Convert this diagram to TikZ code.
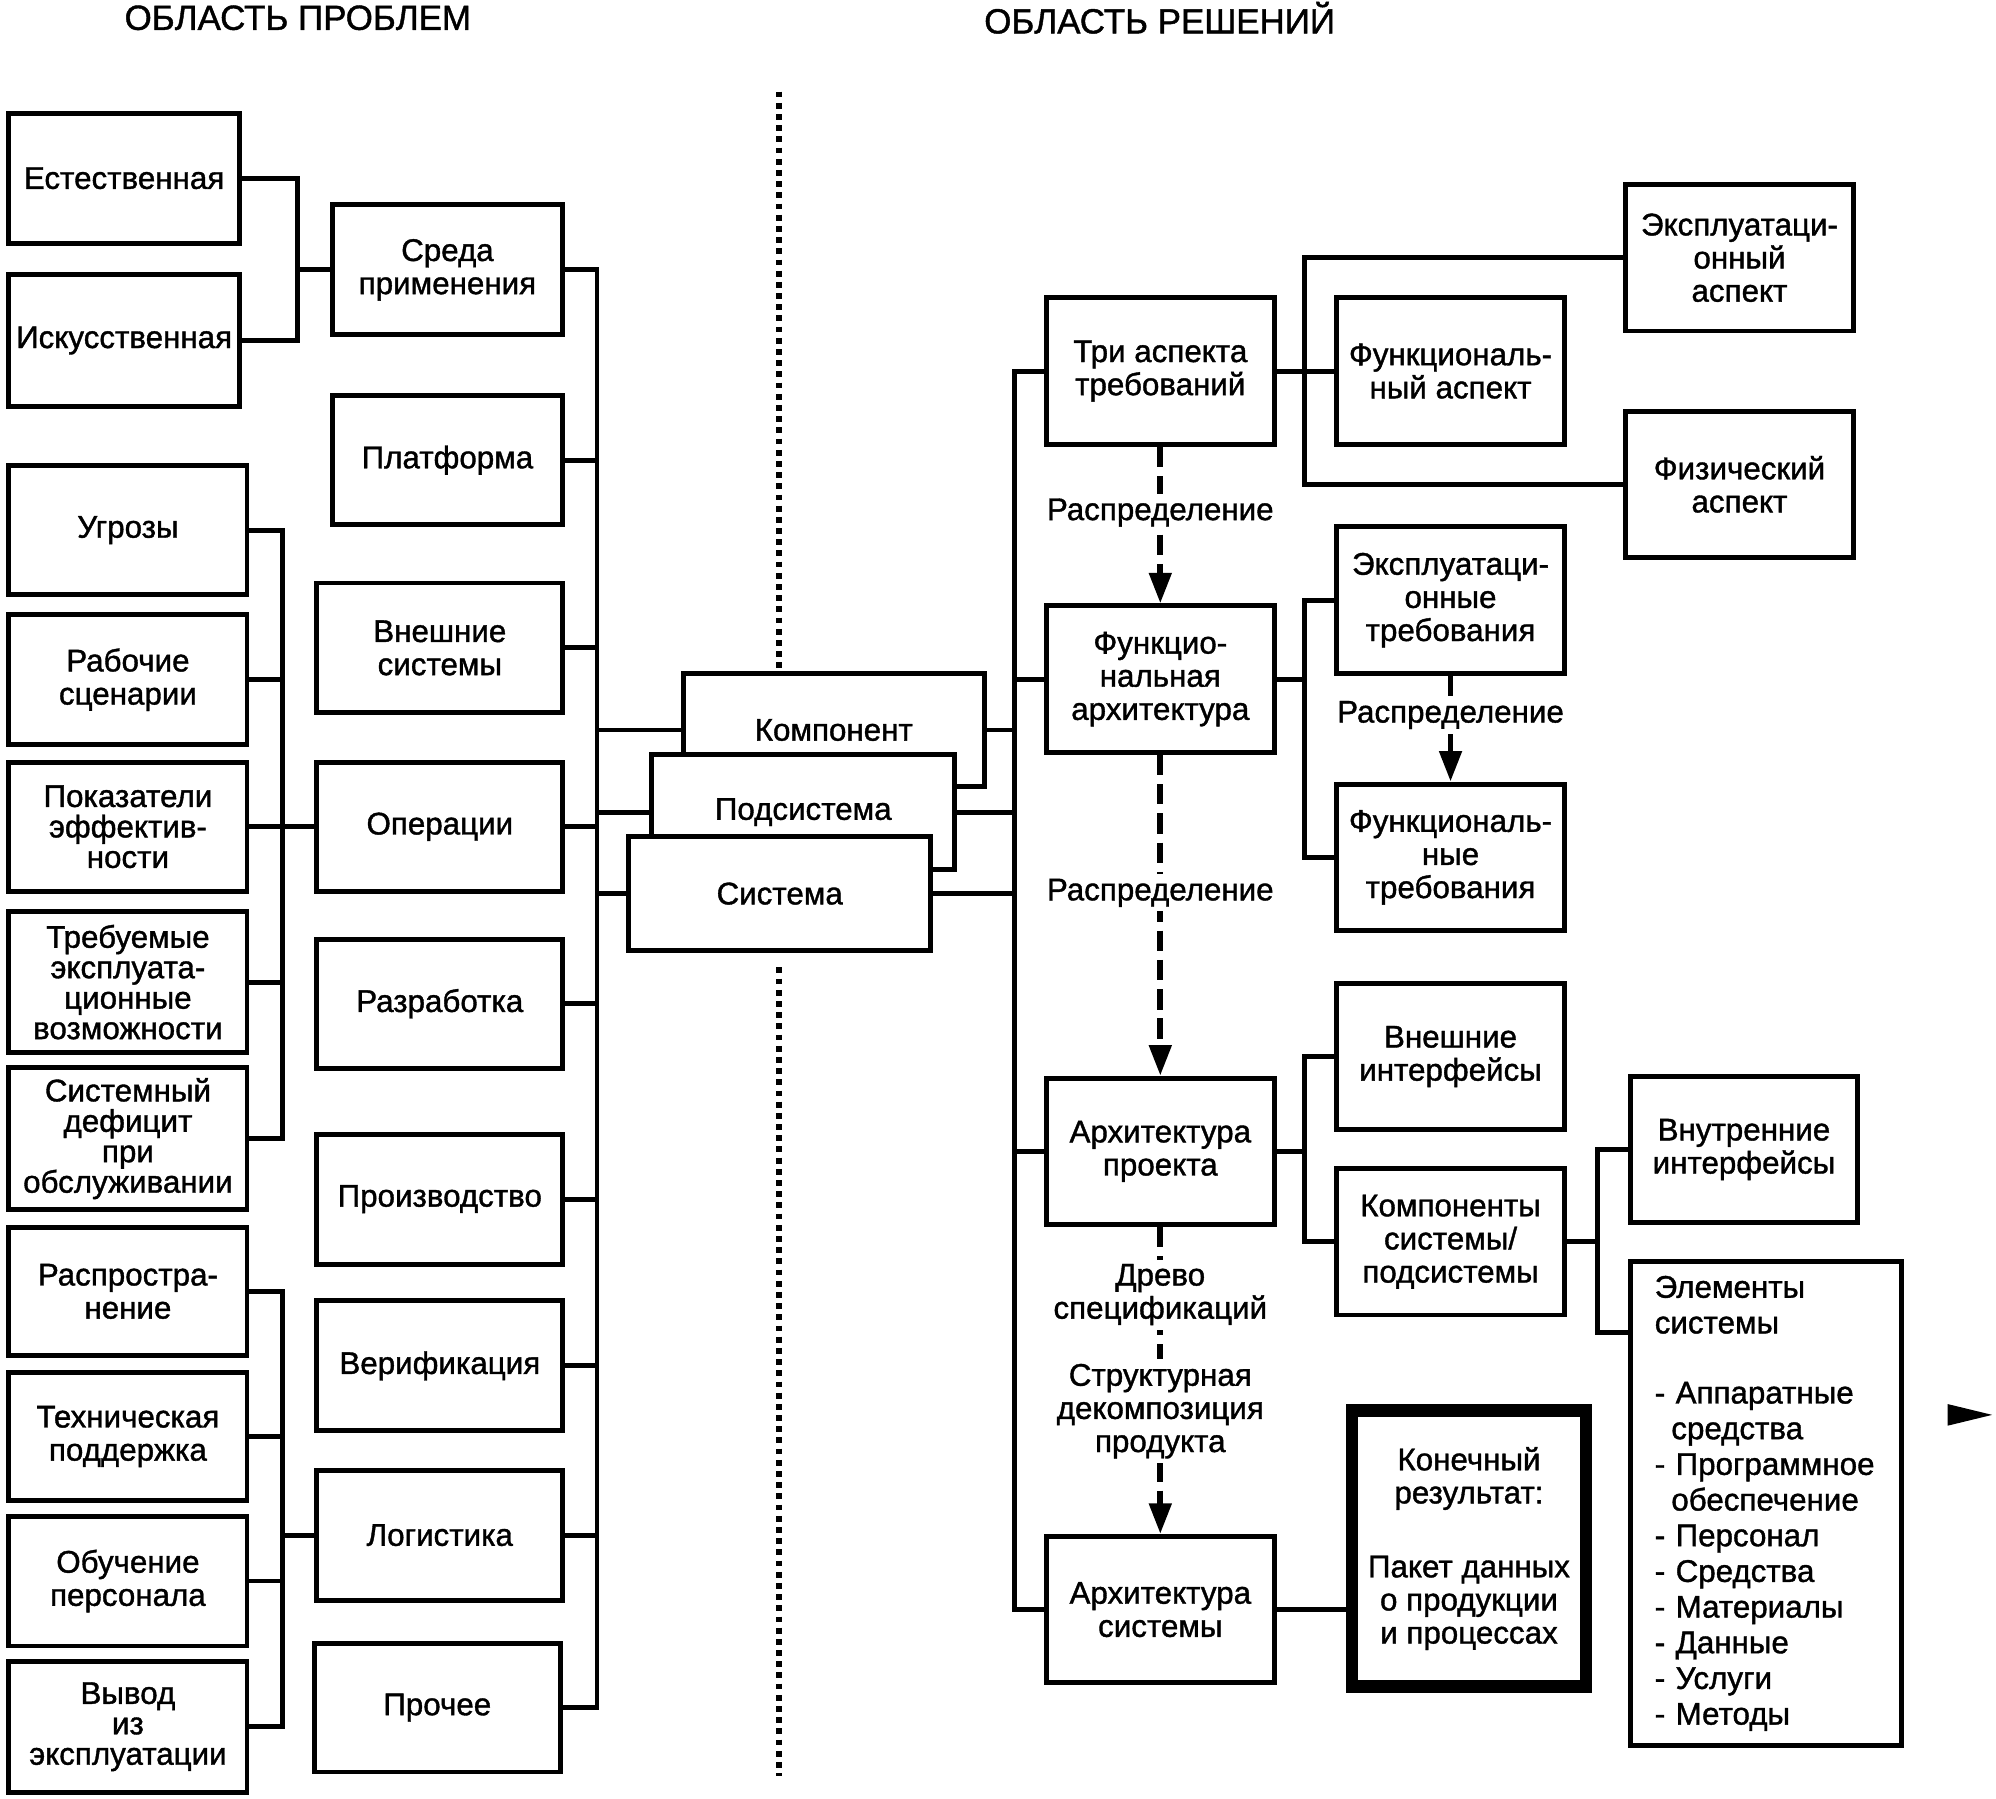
\documentclass[tikz,border=0pt]{standalone}
\usepackage{fontspec}
\setmainfont[FakeBold=1.2,AutoFakeBold=1.2]{Liberation Sans}
\usetikzlibrary{arrows.meta}

\begin{document}
\begin{tikzpicture}[x=0.01cm,y=-0.01cm]
\tikzset{boite/.style={draw, fill=white, line width=1.1pt, inner sep=0pt, align=center, font=\fontsize{7}{7.4}\selectfont\bfseries},
  serre/.style={font=\fontsize{7}{6.8}\selectfont\bfseries},
  titre/.style={font=\fontsize{7.8}{8}\selectfont\bfseries},
  lien/.style={line width=1.1pt},
  fleche/.style={line width=1.3pt, dash pattern=on 0.16cm off 0.07cm, -{Triangle[length=0.24cm,width=0.17cm]}},
  etiq/.style={fill=white, inner sep=1pt, align=center, font=\fontsize{7}{7.4}\selectfont\bfseries}}
\useasboundingbox (0,0) rectangle (1568,1413);
\node[titre] (T1) at (234,14) {ОБЛАСТЬ ПРОБЛЕМ};
\node[titre] (T2) at (911,14) {ОБЛАСТЬ РЕШЕНИЙ};
\draw[line width=1.5pt, dash pattern=on 1.3pt off 1.2pt] (612,72) -- (612,527);
\draw[line width=1.5pt, dash pattern=on 1.3pt off 1.2pt] (612,760) -- (612,1395);
\node[boite, minimum width=1.81cm, minimum height=1.02cm] (A1) at (97.5,140) {Естественная};
\node[boite, minimum width=1.81cm, minimum height=1.03cm] (A2) at (97.5,267.5) {Искусственная};
\node[boite, minimum width=1.87cm, minimum height=1.01cm] (A3) at (100.5,416.5) {Угрозы};
\node[boite, minimum width=1.87cm, minimum height=1.02cm] (A4) at (100.5,534) {Рабочие\\сценарии};
\node[boite, serre, minimum width=1.87cm, minimum height=1.01cm] (A5) at (100.5,649.5) {Показатели\\эффектив-\\ности};
\node[boite, serre, minimum width=1.87cm, minimum height=1.11cm] (A6) at (100.5,771.5) {Требуемые\\эксплуата-\\ционные\\возможности};
\node[boite, serre, minimum width=1.87cm, minimum height=1.11cm] (A7) at (100.5,894.5) {Системный\\дефицит\\при\\обслуживании};
\node[boite, minimum width=1.87cm, minimum height=1.01cm] (A8) at (100.5,1014.5) {Распростра-\\нение};
\node[boite, minimum width=1.87cm, minimum height=1.01cm] (A9) at (100.5,1128.5) {Техническая\\поддержка};
\node[boite, minimum width=1.87cm, minimum height=1.02cm] (A10) at (100.5,1242) {Обучение\\персонала};
\node[boite, serre, minimum width=1.87cm, minimum height=1.03cm] (A11) at (100.5,1356.5) {Вывод\\из\\эксплуатации};
\node[boite, minimum width=1.81cm, minimum height=1.02cm] (B1) at (351.5,212) {Среда\\применения};
\node[boite, minimum width=1.81cm, minimum height=1.01cm] (B2) at (351.5,361.5) {Платформа};
\node[boite, minimum width=1.93cm, minimum height=1.02cm] (B3) at (345.5,509) {Внешние\\системы};
\node[boite, minimum width=1.93cm, minimum height=1.01cm] (B4) at (345.5,649.5) {Операции};
\node[boite, minimum width=1.93cm, minimum height=1.01cm] (B5) at (345.5,788.5) {Разработка};
\node[boite, minimum width=1.93cm, minimum height=1.02cm] (B6) at (345.5,942) {Производство};
\node[boite, minimum width=1.93cm, minimum height=1.02cm] (B7) at (345.5,1073) {Верификация};
\node[boite, minimum width=1.93cm, minimum height=1.02cm] (B8) at (345.5,1206) {Логистика};
\node[boite, minimum width=1.93cm, minimum height=1.01cm] (B9) at (343.5,1341.5) {Прочее};
\node[boite, minimum width=2.36cm, minimum height=0.89cm] (K) at (655,573.5) {Компонент};
\node[boite, minimum width=2.38cm, minimum height=0.90cm] (P) at (631,638) {Подсистема};
\node[boite, minimum width=2.37cm, minimum height=0.90cm] (S) at (612.5,702) {Система};
\node[boite, minimum width=1.79cm, minimum height=1.15cm] (C1) at (911.5,291.5) {Три аспекта\\требований};
\node[boite, minimum width=1.79cm, minimum height=1.15cm] (C2) at (911.5,533.5) {Функцио-\\нальная\\архитектура};
\node[boite, minimum width=1.79cm, minimum height=1.15cm] (C3) at (911.5,904.5) {Архитектура\\проекта};
\node[boite, minimum width=1.79cm, minimum height=1.15cm] (C4) at (911.5,1264.5) {Архитектура\\системы};
\node[boite, minimum width=1.79cm, minimum height=1.15cm] (D1) at (1139.5,291.5) {Функциональ-\\ный аспект};
\node[boite, minimum width=1.79cm, minimum height=1.15cm] (D2) at (1139.5,471.5) {Эксплуатаци-\\онные\\требования};
\node[boite, minimum width=1.79cm, minimum height=1.15cm] (D3) at (1139.5,673.5) {Функциональ-\\ные\\требования};
\node[boite, minimum width=1.79cm, minimum height=1.14cm] (D4) at (1139.5,830) {Внешние\\интерфейсы};
\node[boite, minimum width=1.79cm, minimum height=1.15cm] (D5) at (1139.5,975.5) {Компоненты\\системы/\\подсистемы};
\node[boite, minimum width=1.79cm, minimum height=1.15cm] (E1) at (1366.5,202.5) {Эксплуатаци-\\онный\\аспект};
\node[boite, minimum width=1.79cm, minimum height=1.15cm] (E2) at (1366.5,380.5) {Физический\\аспект};
\node[boite, minimum width=1.78cm, minimum height=1.14cm] (E3) at (1370,903) {Внутренние\\интерфейсы};
\node[boite, minimum width=2.13cm, minimum height=3.80cm, text width=1.75cm, align=left, font=\fontsize{7}{7.97}\selectfont\bfseries] (E4) at (1387.5,1181) {Элементы\\системы\\[0.27cm]- Аппаратные\\\hspace*{0.13cm}средства\\- Программное\\\hspace*{0.13cm}обеспечение\\- Персонал\\- Средства\\- Материалы\\- Данные\\- Услуги\\- Методы};
\node[boite, line width=2.8pt, minimum width=1.84cm, minimum height=2.17cm] (F) at (1154,1216.5) {Конечный\\результат:\\[0.32cm]Пакет данных\\о продукции\\и процессах};
\coordinate (b) at (234,0);
\coordinate (a) at (222,0);
\coordinate (m) at (469,0);
\coordinate (r) at (797,0);
\coordinate (q) at (1025,0);
\coordinate (s) at (1255,0);
\coordinate (el) at ([yshift=-0.58cm]E4.north west);
\draw[lien] (A1.east) -| (b |- A2.east) -- (A2.east);
\draw[lien] (b |- B1.west) -- (B1.west);
\draw[lien] (A3.east) -| (a |- A7.east) -- (A7.east);
\draw[lien] (A4.east) -- (a |- A4.east);
\draw[lien] (A5.east) -- (B4.west);
\draw[lien] (A6.east) -- (a |- A6.east);
\draw[lien] (A8.east) -| (a |- A11.east) -- (A11.east);
\draw[lien] (A9.east) -- (a |- A9.east);
\draw[lien] (A10.east) -- (a |- A10.east);
\draw[lien] (a |- B8.west) -- (B8.west);
\draw[lien] (B1.east) -| (m |- B9.east) -- (B9.east);
\draw[lien] (B2.east) -- (m |- B2.east);
\draw[lien] (B3.east) -- (m |- B3.east);
\draw[lien] (B4.east) -- (m |- B4.east);
\draw[lien] (B5.east) -- (m |- B5.east);
\draw[lien] (B6.east) -- (m |- B6.east);
\draw[lien] (B7.east) -- (m |- B7.east);
\draw[lien] (B8.east) -- (m |- B8.east);
\draw[lien] (m |- K.west) -- (K.west);
\draw[lien] (m |- P.west) -- (P.west);
\draw[lien] (m |- S.west) -- (S.west);
\draw[lien] (K.east) -- (r |- K.east);
\draw[lien] (P.east) -- (r |- P.east);
\draw[lien] (S.east) -- (r |- S.east);
\draw[lien] (C1.west) -| (r |- C4.west) -- (C4.west);
\draw[lien] (r |- C2.west) -- (C2.west);
\draw[lien] (r |- C3.west) -- (C3.west);
\draw[lien] (C1.east) -- (D1.west);
\draw[lien] (E1.west) -| (q |- E2.west) -- (E2.west);
\draw[lien] (C2.east) -- (q |- C2.east);
\draw[lien] (D2.west) -| (q |- D3.west) -- (D3.west);
\draw[lien] (C3.east) -- (q |- C3.east);
\draw[lien] (D4.west) -| (q |- D5.west) -- (D5.west);
\draw[lien] (D5.east) -- (s |- D5.east);
\draw[lien] (E3.west) -| (s |- el) -- (el);
\draw[lien] (C4.east) -- (C4.east -| F.west);
\draw[fleche] (C1.south) -- (C2.north) node[etiq, pos=0.42] {Распределение};
\draw[fleche] (C2.south) -- (C3.north) node[etiq, pos=0.43] {Распределение};
\draw[fleche] (C3.south) -- (C4.north) node[etiq, pos=0.22] {Древо\\спецификаций} node[etiq, pos=0.6] {Структурная\\декомпозиция\\продукта};
\draw[fleche] (D2.south) -- (D3.north) node[etiq, pos=0.37] {Распределение};
\fill (1530,1103) -- (1565,1111.5) -- (1530,1120) -- cycle;
\end{tikzpicture}
\end{document}
